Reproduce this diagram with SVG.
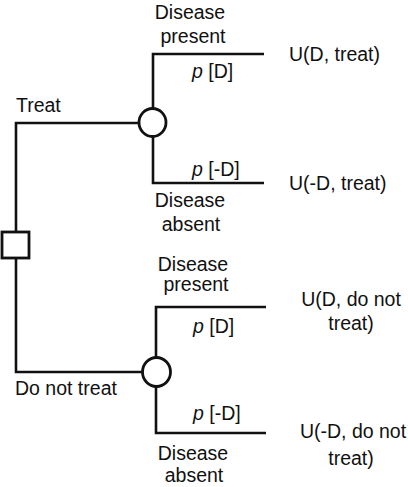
<svg xmlns="http://www.w3.org/2000/svg" width="408" height="487" viewBox="0 0 408 487">
<style>
.ln{fill:none;stroke:#111;stroke-width:2.6}
.nd{fill:#fff;stroke:#111;stroke-width:2.8}
text{font-family:"Liberation Sans",Arial,sans-serif;font-size:19.5px;fill:#111}
.c{text-anchor:middle}
.i{font-style:italic}
</style>
<rect width="408" height="487" fill="#fff"/>
<g id="connectors">
<path class="ln" d="M16,232 V123 H139"/>
<path class="ln" d="M16,258 V372 H142"/>
<path class="ln" d="M153,109 V54 H264"/>
<path class="ln" d="M153,136 V183 H264"/>
<path class="ln" d="M156,358 V307 H266"/>
<path class="ln" d="M156,386 V433 H266"/>
</g>
<g id="decision"><rect class="nd" x="2" y="232" width="27" height="26"/></g>
<g id="chance-treat"><ellipse class="nd" cx="152.5" cy="122.5" rx="13.5" ry="14"/></g>
<g id="chance-notreat"><ellipse class="nd" cx="156.5" cy="372" rx="14" ry="14.5"/></g>
<g id="labels">
<text x="16" y="112">Treat</text>
<text x="15" y="395">Do not treat</text>
<text class="c" x="190" y="19">Disease</text>
<text class="c" x="193" y="43">present</text>
<text x="192" y="78"><tspan class="i">p</tspan> [D]</text>
<text x="192" y="176"><tspan class="i">p</tspan> [-D]</text>
<text class="c" x="190" y="207">Disease</text>
<text class="c" x="191" y="231">absent</text>
<text class="c" x="193" y="271">Disease</text>
<text class="c" x="196" y="291">present</text>
<text x="193" y="333"><tspan class="i">p</tspan> [D]</text>
<text x="193" y="420"><tspan class="i">p</tspan> [-D]</text>
<text class="c" x="193" y="460">Disease</text>
<text class="c" x="194" y="482">absent</text>
</g>
<g id="outcomes">
<text x="289" y="61">U(D, treat)</text>
<text x="289" y="190">U(-D, treat)</text>
<text class="c" x="351" y="306">U(D, do not</text>
<text class="c" x="351" y="330">treat)</text>
<text class="c" x="353" y="438">U(-D, do not</text>
<text class="c" x="351" y="465">treat)</text>
</g>
</svg>
